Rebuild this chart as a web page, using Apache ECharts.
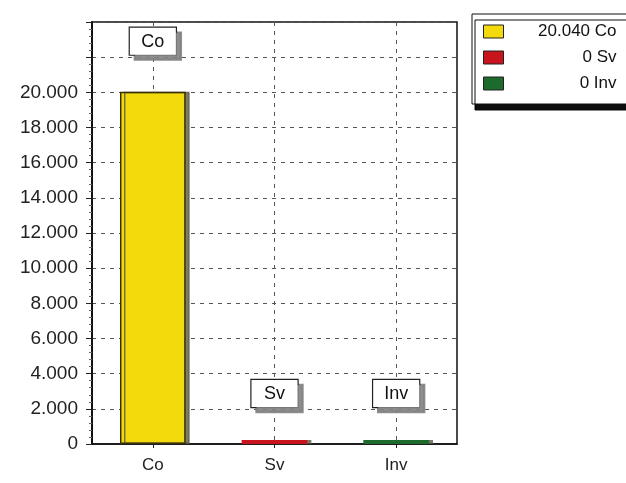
<!DOCTYPE html>
<html><head><meta charset="utf-8">
<script src="https://cdn.jsdelivr.net/npm/echarts@6/dist/echarts.min.js"></script>
<style>html,body{margin:0;padding:0;background:#fff}#c{width:626px;height:483px}</style>
</head><body><div id="c"></div>
<script>
const categories = ['Co', 'Sv', 'Inv'];
const values = [20040, 0, 0];
const colors = ['#f2da0c', '#c8141c', '#1c6a2c'];
const yTicks = [0, 2000, 4000, 6000, 8000, 10000, 12000, 14000, 16000, 18000, 20000];

const FONT = 'Liberation Sans, Arial, sans-serif';
function fmt(v){ return String(v).replace(/\B(?=(\d{3})+(?!\d))/g, '.'); }

const series = categories.map((c, i) => ({
  name: c,
  type: 'bar',
  barWidth: '54%',
  barGap: '-100%',
  barMinHeight: 4,
  data: categories.map((_, j) => j === i ? values[i] : '-'),
  itemStyle: { color: colors[i], borderColor: '#3a3000', borderWidth: i === 0 ? 1.5 : 0,
    shadowColor: 'rgba(90,90,70,0.8)', shadowOffsetX: 4, shadowOffsetY: 0 },
  label: {
    show: true, position: 'top', distance: values[i] > 0 ? 37 : 33,
    formatter: c,
    color: '#111', fontFamily: FONT, fontSize: 18,
    width: 28, align: 'center',
    backgroundColor: '#fff', borderColor: '#222', borderWidth: 1.2,
    padding: [5, 9, 4, 9],
    shadowColor: 'rgba(130,130,130,0.9)', shadowOffsetX: 5, shadowOffsetY: 5
  }
}));

// hidden helper axis: 7 slots so every odd slot is a category centre
const helperCats = ['a', 'b', 'c', 'd', 'e', 'f', 'g'];

const chart = echarts.init(document.getElementById('c'));
chart.setOption({
  animation: false,
  grid: { left: 92, right: 169, top: 22, bottom: 39, show: true, borderColor: '#111', borderWidth: 1.5, backgroundColor: '#fff' },
  legend: {
    orient: 'vertical', left: 472, top: 14, itemWidth: 20, itemHeight: 13, itemGap: 9,
    padding: [9, 12, 12, 11],
    icon: 'rect',
    backgroundColor: '#fff', borderColor: '#111', borderWidth: 1,
    shadowColor: 'rgba(0,0,0,0.95)', shadowOffsetX: 3, shadowOffsetY: 6,
    itemStyle: { borderColor: '#222', borderWidth: 1 },
    selectedMode: false,
    formatter: n => '{a|' + fmt(values[categories.indexOf(n)]) + ' ' + n + '}',
    textStyle: { rich: { a: { width: 108, align: 'right', fontSize: 17, lineHeight: 17, color: '#111', fontFamily: FONT } } },
    data: categories
  },
  xAxis: [{
    type: 'category', data: categories,
    axisLine: { lineStyle: { color: '#111', width: 1.5 } },
    axisTick: { show: true, alignWithLabel: true, length: 4, lineStyle: { color: '#222' } },
    axisLabel: { color: '#222', fontSize: 17, fontFamily: FONT, margin: 13 },
    splitLine: { show: false }
  }, {
    type: 'category', data: helperCats, boundaryGap: false, position: 'bottom',
    axisLine: { show: false }, axisTick: { show: false }, axisLabel: { show: false },
    splitLine: { show: true, interval: (i) => i % 2 === 1, lineStyle: { type: [4, 5], color: '#555' } }
  }],
  yAxis: {
    type: 'value', min: 0, max: 24000, interval: 2000,
    axisLine: { show: true, lineStyle: { color: '#111', width: 2 } },
    axisTick: { show: true, length: 6, lineStyle: { color: '#222' } },
    minorTick: { show: true, splitNumber: 5, length: 3, lineStyle: { color: '#666' } },
    axisLabel: { color: '#222', fontSize: 19, fontFamily: FONT, margin: 14,
      formatter: v => yTicks.indexOf(v) >= 0 ? fmt(v) : '' },
    splitLine: { show: true, lineStyle: { type: [4, 5], color: '#555' } }
  },
  series: series
});
</script></body></html>
